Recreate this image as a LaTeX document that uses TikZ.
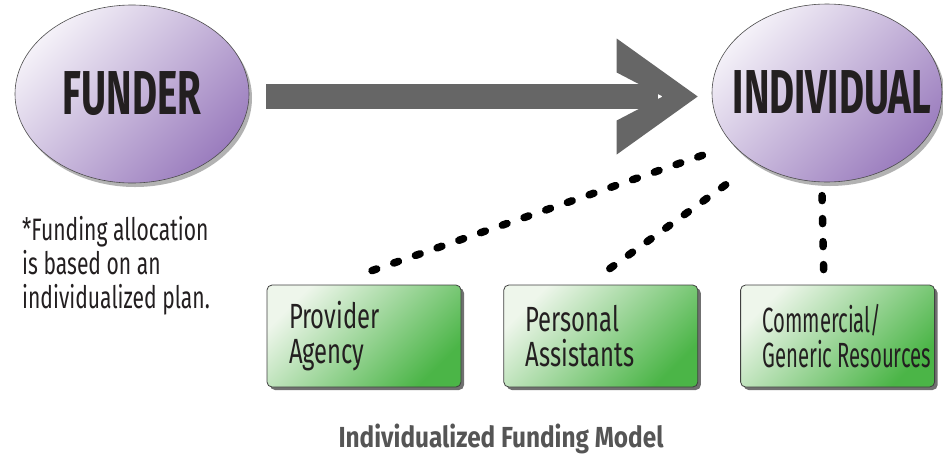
\documentclass[tikz,border=0pt]{standalone}
\usepackage{fontspec}
\setmainfont{Fira Sans}[FakeStretch=0.68]
\newfontfamily\ovalfont{Fira Sans}[FakeStretch=0.62]
\newfontfamily\narrowfont{Fira Sans}[FakeStretch=0.58]
\newfontfamily\titlefont{Fira Sans}[FakeStretch=0.84]
\usetikzlibrary{positioning,shapes.geometric,shadows}
\definecolor{arrowgray}{HTML}{666666}
\definecolor{ovallight}{HTML}{F4F1F8}
\definecolor{ovaldark}{HTML}{9B7DBE}
\definecolor{boxlight}{HTML}{EEF6EB}
\definecolor{boxdark}{HTML}{4BB547}
\definecolor{textdark}{HTML}{231F20}
\definecolor{titlegray}{HTML}{555555}
\tikzstyle{oval} = [ellipse, draw=black!70, line width=0.6pt, top color=ovallight, bottom color=ovaldark, shading angle=45, drop shadow={shadow xshift=3pt, shadow yshift=-4pt, fill=black!60, opacity=.5}]
\tikzstyle{ovaltext} = [font=\ovalfont\fontsize{62}{62}\selectfont\bfseries, text=textdark]
\tikzstyle{resbox} = [rectangle, rounded corners=5pt, draw=black!75, line width=0.8pt, top color=boxlight, bottom color=boxdark, shading angle=45, drop shadow={shadow xshift=3pt, shadow yshift=-3pt, fill=black!70, opacity=.8}, minimum width=194pt, minimum height=102pt, inner xsep=22pt, text width=150pt, align=left, font=\fontsize{35}{35}\selectfont, text=textdark]
\tikzstyle{dots} = [line width=7.5pt, line cap=round, dash pattern=on 5pt off 18pt]
\tikzstyle{bigarrow} = [arrowgray, line width=25pt]

\begin{document}
\begin{tikzpicture}[x=1pt, y=1pt, node distance=42pt]
  \useasboundingbox (0,0) rectangle (943,-456);

  \node (funder) [oval, minimum width=234pt, minimum height=178pt, label={[ovaltext]center:FUNDER}] at (132,-94) {};
  \node (individual) [oval, minimum width=230pt, minimum height=178pt, label={[ovaltext, xshift=5pt]center:INDIVIDUAL}] at (827,-93) {};

  \coordinate (tip) at ([shift={(-14,-3.5)}]individual.west);
  \draw [bigarrow] ([shift={(17,-2.5)}]funder.east) -- ([xshift=-40pt]tip);
  \fill [arrowgray] (tip) -- ++(-81,58) -- ++(0,-34) -- ++(46,-24) -- ++(-46,-24) -- ++(0,-34) -- cycle;

  \node (provider) [resbox] at (364,-336) {Provider\\Agency};
  \node (personal) [resbox, right=of provider] {Personal\\Assistants};
  \node (commercial) [resbox, inner xsep=20pt, font=\narrowfont\fontsize{35}{35}\selectfont, right=of personal] {Commercial/\\\mbox{Generic\hspace{5pt}Resources}};

  \draw [dots] ([shift={(8,14)}]provider.north) -- ([shift={(-115,-59)}]individual.center);
  \draw [dots] ([shift={(9,16)}]personal.north) -- ([shift={(-92,-85)}]individual.center);
  \draw [dots] ([shift={(-14,15)}]commercial.north) -- ([shift={(-5,-102)}]individual.center);

  \node (note) [anchor=north west, align=left, inner sep=0pt, font=\fontsize{31}{34}\selectfont, text=textdark] at (22,-216) {*Funding allocation\\is based on an\\individualized plan.};

  \node (title) [font=\titlefont\fontsize{29}{30}\selectfont\bfseries, text=titlegray] at (501,-439) {Individualized Funding Model};
\end{tikzpicture}
\end{document}
